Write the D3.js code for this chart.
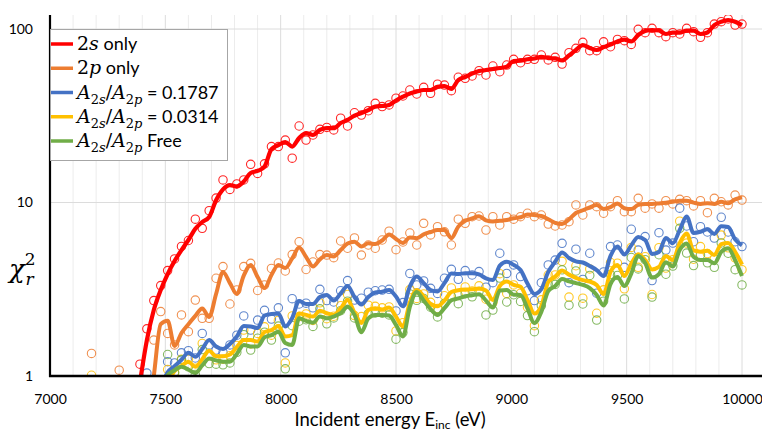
<!DOCTYPE html>
<html>
<head>
<meta charset="utf-8">
<script src="https://cdn.jsdelivr.net/npm/d3@7"></script>
<style>
body { margin: 0; background: #fff; }
svg { display: block; font-family: Lato, "Open Sans", sans-serif; }
</style>
</head>
<body>
<svg id="chart" width="762" height="433"></svg>
<script>
// incident energies (eV)
var energy = [7180,7210,7240,7270,7300,7330,7360,7390,7420,7450, 7480,7510,7540,7570,7600,7630,7660,7690,7720,7750,
	7780,7810,7840,7870,7900,7930,7960,7990,8020,8050, 8080,8110,8140,8170,8200,8230,8260,8290,8320,8350,
	8380,8410,8440,8470,8500,8530,8560,8590,8620,8650, 8680,8710,8740,8770,8800,8830,8860,8890,8920,8950,
	8980,9010,9040,9070,9100,9130,9160,9190,9220,9250, 9280,9310,9340,9370,9400,9430,9460,9490,9520,9550,
	9580,9610,9640,9670,9700,9730,9760,9790,9820,9850, 9880,9910,9940,9970,10000];

// 2s only
var s2Points = [null,null,null,null,null,null,null,1.17,1.87,2.72, 3.32,4.05,4.73,5.58,6.04,8.01,7.10,8.97,10.6,13.5,
	11.9,12.8,13.5,16.6,14.7,16.7,21.0,21.0,22.9,18.0, 27.6,22.9,24.5,26.4,27.1,26.2,30.6,27.6,32.9,31.9,
	33.8,37.3,35.7,36.5,39.9,41.1,44.5,42.2,46.1,42.6, 48.1,47.5,44.1,52.7,52.0,53.6,57.5,54.3,61.2,56.7,
	62.0,66.9,63.9,66.9,66.9,70.8,66.3,68.7,62.8,73.0, 77.4,83.8,75.0,75.0,84.4,79.0,87.1,85.6,81.5,99.6,
	95.2,100.9,95.2,90.3,95.2,93.6,100.9,96.5,89.6,95.2, 106.7,110.2,114.3,105.3,106.7];
var s2Line = [null,null,null,null,null,null,null,0.92,1.61,2.40, 3.13,3.87,4.60,5.32,6.08,7.05,7.72,8.25,10.3,11.9,
	12.6,12.4,13.2,14.8,15.2,16.1,20.3,21.4,22.3,21.0, 23.5,25.1,24.5,26.2,26.8,26.8,28.7,29.9,31.7,32.8,
	34.1,35.7,36.0,36.5,38.7,40.7,42.5,43.6,44.5,44.5, 46.4,46.9,45.1,50.8,52.9,55.3,57.2,58.0,58.8,59.6,
	60.6,65.4,65.7,66.9,67.6,69.0,68.0,67.7,65.9,70.4, 75.7,80.8,77.7,75.7,78.7,81.3,84.7,86.9,84.7,92.3,
	97.4,98.7,98.0,93.6,95.2,95.2,97.8,97.8,93.6,95.5, 105.3,110.2,112.7,110.2,105.3];

// 2p only
var p2Points = [1.35,null,null,null,1.08,null,null,null,null,1.61, 2.35,1.76,1.51,2.25,1.80,2.74,2.15,2.15,3.66,4.27,
	2.60,3.13,4.27,4.46,3.11,3.35,4.17,4.48,4.03,5.01, 5.94,4.11,4.54,5.01,4.98,4.81,6.00,5.45,6.25,4.98,
	5.69,5.45,6.08,6.83,5.35,5.92,6.67,5.69,7.59,6.50, 7.26,6.78,5.69,8.01,7.59,8.28,8.36,6.94,8.28,7.42,
	8.28,8.01,8.28,8.67,8.28,8.47,7.51,7.32,7.42,7.75, 9.68,8.47,9.68,9.46,8.67,9.46,10.24,8.85,8.85,10.57,
	9.27,9.81,9.27,10.24,9.81,10.43,10.24,9.55,10.24,8.74, 10.57,10.10,9.68,11.04,10.33];
var p2Line = [null,null,null,null,null,null,null,null,0.5,1.0, 1.99,2.08,1.49,1.77,1.99,2.22,2.45,2.19,2.97,3.98,
	3.43,2.97,3.79,4.37,3.72,3.21,3.82,4.37,4.19,4.76, 5.50,4.86,4.28,4.70,4.98,4.89,5.32,5.80,5.94,5.58,
	5.82,5.76,6.04,6.55,6.16,5.84,6.28,6.23,6.55,6.76, 6.94,6.94,6.23,7.26,7.85,8.09,8.33,7.90,7.77,7.84,
	7.92,8.11,8.22,8.52,8.47,8.36,8.01,7.64,7.53,7.98, 8.70,9.02,9.38,9.66,9.18,9.40,9.88,9.27,9.16,9.68,
	9.81,9.81,9.88,9.97,10.09,10.23,10.24,9.99,9.81,9.90, 9.81,10.09,9.90,10.43,10.71];

// A2s/A2p = 0.1787
var r1787Points = [null,null,null,null,null,null,null,null,1.04,null, null,1.21,1.19,1.36,1.40,1.27,1.76,1.51,1.41,1.37,
	1.51,1.72,2.22,1.84,2.10,2.39,2.13,2.47,1.36,2.79, 2.60,2.63,2.47,3.16,2.72,2.67,3.10,3.55,2.74,2.81,
	3.04,3.10,3.13,3.16,2.37,2.65,3.90,3.35,3.53,3.20, 2.99,3.66,4.12,3.61,4.05,3.82,4.00,3.25,3.45,5.10,
	3.90,4.37,3.74,3.10,2.72,3.45,4.37,4.66,5.82,3.45, 5.38,3.60,5.10,3.00,3.98,5.57,5.69,4.23,7.01,5.32,
	6.36,3.55,6.70,5.32,5.84,9.27,7.32,5.94,7.26,6.76, 6.24,8.22,6.76,5.94,5.57];
var r1787Line = [null,null,null,null,null,null,null,null,null,null, 0.85,1.05,1.14,1.24,1.36,1.29,1.43,1.61,1.48,1.43,
	1.53,1.69,1.94,1.93,1.89,2.23,2.28,2.29,1.93,2.16, 2.71,2.60,2.60,2.85,2.93,2.72,2.99,3.30,2.85,2.58,
	2.85,3.03,3.06,3.13,2.87,2.52,3.28,3.75,3.43,3.13, 3.07,3.43,3.90,3.87,3.91,3.91,3.85,3.65,3.57,4.33,
	4.56,4.37,4.08,3.41,2.97,3.17,3.98,4.56,5.15,4.79, 4.58,4.51,4.31,4.08,3.77,4.92,5.57,5.01,5.66,6.33,
	6.08,5.05,5.19,6.25,5.82,6.94,8.31,6.67,6.78,7.01, 6.59,7.30,7.22,6.13,5.66];

// A2s/A2p = 0.0314
var r0314Points = [1.01,null,null,null,null,null,null,null,null,null, null,1.09,1.04,1.25,1.25,1.11,1.54,1.31,1.24,1.25,
	1.31,1.50,1.84,1.53,1.76,1.92,1.72,2.09,1.19,2.22, 2.20,2.28,2.09,2.64,2.14,2.21,2.54,2.95,2.23,2.20,
	2.56,2.52,2.47,2.50,1.82,2.03,3.15,2.80,2.97,2.66, 2.45,2.90,3.22,2.91,3.26,3.09,3.31,2.77,2.65,3.89,
	2.99,3.35,3.00,2.49,1.95,2.75,3.82,3.82,4.58,2.85, 4.32,2.81,4.14,2.30,3.14,4.51,4.47,3.18,5.51,4.23,
	4.87,2.95,5.49,4.19,4.68,7.80,5.84,4.71,5.57,5.08, 4.72,6.49,5.48,4.80,4.10];
var r0314Line = [null,null,null,null,null,null,null,null,null,null, null,0.90,1.07,1.14,1.21,1.13,1.25,1.40,1.30,1.30,
	1.33,1.47,1.61,1.61,1.58,1.79,1.84,1.94,1.69,1.72, 2.29,2.25,2.20,2.38,2.30,2.25,2.45,2.74,2.32,2.02,
	2.40,2.46,2.42,2.48,2.20,1.93,2.65,3.13,2.89,2.60, 2.52,2.72,3.05,3.12,3.15,3.16,3.19,3.11,2.74,3.30,
	3.50,3.35,3.27,2.74,2.29,2.53,3.48,3.74,4.05,3.84, 3.68,3.57,3.50,3.35,2.97,3.98,4.37,3.77,4.45,5.03,
	4.66,4.11,4.25,4.92,4.66,5.84,6.63,5.29,5.20,5.27, 4.98,5.76,5.85,5.20,4.39];

// A2s/A2p free
var freePoints = [null,null,null,null,null,null,null,null,null,null, null,1.33,1.05,1.24,1.13,1.02,1.42,1.18,1.17,1.16,
	1.19,1.37,1.73,1.41,1.65,1.79,1.61,1.94,1.10,1.95, 2.07,2.11,1.93,2.44,2.00,2.16,2.38,2.70,2.16,1.95,
	2.29,2.31,2.30,2.25,1.63,1.78,2.97,2.73,2.80,2.49, 2.19,2.62,2.88,2.61,2.98,2.86,3.07,2.25,2.40,3.67,
	2.67,2.94,2.69,2.23,1.80,2.54,3.39,3.37,4.09,2.56, 4.03,2.60,3.80,2.10,2.70,3.84,3.80,2.78,4.82,4.14,
	4.68,2.85,5.00,3.86,4.30,7.10,5.11,4.33,4.99,4.49, 4.23,5.85,5.10,4.10,3.35];
var freeLine = [null,null,null,null,null,null,null,null,null,null, 0.85,1.01,1.08,1.13,1.09,1.04,1.15,1.26,1.23,1.21,
	1.21,1.34,1.51,1.48,1.48,1.67,1.72,1.80,1.55,1.51, 2.15,2.08,2.03,2.20,2.15,2.20,2.30,2.51,2.25,1.79,
	2.15,2.25,2.25,2.23,1.97,1.69,2.50,3.05,2.72,2.43, 2.25,2.46,2.73,2.80,2.88,2.92,2.96,2.72,2.48,3.11,
	3.13,2.94,2.93,2.45,2.02,2.34,3.09,3.30,3.62,3.51, 3.43,3.35,3.21,2.93,2.55,3.39,3.72,3.30,3.89,4.92,
	4.48,3.69,3.87,4.53,4.28,5.32,5.80,4.86,4.66,4.66, 4.46,5.19,5.44,4.66,3.77];

var xTicks = [7000, 7500, 8000, 8500, 9000, 9500, 10000];
var yTicks = [1, 10, 100];
var colors = ['#ff0000', '#ed7d31', '#4472c4', '#ffc000', '#70ad47'];

// legend labels, split in [text, kind] parts (m = math upright, mi = math italic, sub/subi = subscript, t = plain)
var legendLabels = [
	[['2', 'm'], ['s', 'mi'], [' only', 't']],
	[['2', 'm'], ['p', 'mi'], [' only', 't']],
	[['A', 'mi'], ['2', 'sub'], ['s', 'subi'], ['/', 'm'], ['A', 'mi'], ['2', 'sub'], ['p', 'subi'], [' = 0.1787', 't']],
	[['A', 'mi'], ['2', 'sub'], ['s', 'subi'], ['/', 'm'], ['A', 'mi'], ['2', 'sub'], ['p', 'subi'], [' = 0.0314', 't']],
	[['A', 'mi'], ['2', 'sub'], ['s', 'subi'], ['/', 'm'], ['A', 'mi'], ['2', 'sub'], ['p', 'subi'], [' Free', 't']]
];

var series = [
	{pts: s2Points, line: s2Line},
	{pts: p2Points, line: p2Line},
	{pts: r1787Points, line: r1787Line},
	{pts: r0314Points, line: r0314Line},
	{pts: freePoints, line: freeLine}
];

var svg = d3.select('#chart');
var plotLeft = 50, plotRight = 762, plotTop = 15, plotBottom = 376;

var xScale = d3.scaleLinear().domain([7000, 10000]).range([50, 742]);
var yScale = d3.scaleLog().domain([1, 100]).range([376, 29]);

svg.append('defs').append('clipPath').attr('id', 'plotClip')
	.append('rect')
	.attr('x', plotLeft).attr('y', plotTop)
	.attr('width', plotRight - plotLeft).attr('height', plotBottom - plotTop);

///gridlines
var grid = svg.append('g');
grid.selectAll('line.v')
	.data(xScale.ticks(30).filter(function (d) { return d > 7000; }))
	.enter().append('line')
	.attr('x1', function (d) { return xScale(d); })
	.attr('x2', function (d) { return xScale(d); })
	.attr('y1', plotTop).attr('y2', plotBottom)
	.attr('stroke', function (d) { return d % 500 === 0 ? '#dcdcdc' : '#ececec'; })
	.attr('stroke-width', 1);
grid.selectAll('line.h')
	.data([10, 100])
	.enter().append('line')
	.attr('x1', plotLeft).attr('x2', plotRight)
	.attr('y1', function (d) { return yScale(d); })
	.attr('y2', function (d) { return yScale(d); })
	.attr('stroke', '#dcdcdc')
	.attr('stroke-width', 1);

///markers
var plot = svg.append('g').attr('clip-path', 'url(#plotClip)');
series.forEach(function (s, si) {
	var pts = [];
	s.pts.forEach(function (v, i) {
		if (v !== null && v >= 1) pts.push({x: energy[i], y: v});
	});
	plot.append('g').selectAll('circle')
		.data(pts)
		.enter().append('circle')
		.attr('cx', function (d) { return xScale(d.x); })
		.attr('cy', function (d) { return yScale(d.y); })
		.attr('r', 4.2)
		.attr('fill', 'none')
		.attr('stroke', colors[si])
		.attr('stroke-opacity', 0.85)
		.attr('stroke-width', 1.1);
});

///lines
var line = d3.line()
	.defined(function (d) { return d.y !== null; })
	.x(function (d) { return xScale(d.x); })
	.y(function (d) { return yScale(d.y); })
	.curve(d3.curveMonotoneX);
series.forEach(function (s, si) {
	var data = s.line.map(function (v, i) { return {x: energy[i], y: v}; });
	plot.append('path')
		.datum(data)
		.attr('d', line)
		.attr('fill', 'none')
		.attr('stroke', colors[si])
		.attr('stroke-width', si === 0 ? 4.2 : 4)
		.attr('stroke-linejoin', 'round');
});

///axes
var xAxis = d3.axisBottom(xScale).tickValues(xTicks).tickSize(0).tickPadding(18)
	.tickFormat(d3.format('d'));
var gx = svg.append('g').attr('transform', 'translate(0,' + plotBottom + ')').call(xAxis);
gx.select('.domain').remove();
gx.selectAll('text').attr('font-family', 'Lato, sans-serif').attr('font-size', 14).attr('fill', '#000');

var yAxis = d3.axisLeft(yScale).tickValues(yTicks).tickSize(0).tickPadding(17)
	.tickFormat(d3.format('d'));
var gy = svg.append('g').attr('transform', 'translate(' + plotLeft + ',0)').call(yAxis);
gy.select('.domain').remove();
gy.selectAll('text').attr('font-family', 'Lato, sans-serif').attr('font-size', 14).attr('fill', '#000');

svg.append('line')
	.attr('x1', plotLeft).attr('x2', plotLeft)
	.attr('y1', plotTop).attr('y2', plotBottom + 1)
	.attr('stroke', '#000').attr('stroke-width', 2.2);
svg.append('line')
	.attr('x1', plotLeft - 1).attr('x2', plotRight)
	.attr('y1', plotBottom).attr('y2', plotBottom)
	.attr('stroke', '#000').attr('stroke-width', 2.6);

///axis titles
var xt = svg.append('text')
	.attr('x', 390).attr('y', 426)
	.attr('text-anchor', 'middle')
	.attr('font-family', 'Lato, sans-serif')
	.attr('font-size', 18.5);
xt.append('tspan').text('Incident energy E');
xt.append('tspan').text('inc').attr('font-size', 12).attr('dy', 3);
xt.append('tspan').text(' (eV)').attr('dy', -3);

var yt = svg.append('text')
	.attr('x', 9).attr('y', 278)
	.attr('font-family', '"DejaVu Serif", serif')
	.attr('font-style', 'italic')
	.attr('font-size', 26);
yt.append('tspan').text('\u03c7');
yt.append('tspan').text('2').attr('font-style', 'normal').attr('font-size', 17).attr('dy', -13);
yt.append('tspan').text('r').attr('font-size', 17).attr('dx', -10).attr('dy', 20);

///legend
var legend = svg.append('g');
legend.append('rect')
	.attr('x', 50.5).attr('y', 29.5)
	.attr('width', 177).attr('height', 131)
	.attr('fill', '#fff')
	.attr('stroke', '#a6a6a6')
	.attr('stroke-width', 1);

var legendY = d3.scalePoint().domain(d3.range(legendLabels.length)).range([44, 141]);

legendLabels.forEach(function (parts, li) {
	var cy = legendY(li);
	legend.append('line')
		.attr('x1', 51).attr('x2', 73)
		.attr('y1', cy).attr('y2', cy)
		.attr('stroke', colors[li])
		.attr('stroke-width', 3.5);
	var t = legend.append('text').attr('x', 77).attr('y', cy + 6);
	var shifted = false;
	parts.forEach(function (p) {
		var kind = p[1];
		var ts = t.append('tspan').text(p[0]);
		if (kind === 't') {
			ts.attr('font-family', 'Lato, sans-serif').attr('font-size', 18);
		} else {
			ts.attr('font-family', '"DejaVu Serif", serif')
				.attr('font-style', (kind === 'mi' || kind === 'subi') ? 'italic' : 'normal')
				.attr('font-size', (kind === 'sub' || kind === 'subi') ? 13 : 19);
		}
		var isSub = (kind === 'sub' || kind === 'subi');
		if (isSub && !shifted) { ts.attr('dy', 5); shifted = true; }
		if (!isSub && shifted) { ts.attr('dy', -5); shifted = false; }
	});
});
</script>
</body>
</html>
